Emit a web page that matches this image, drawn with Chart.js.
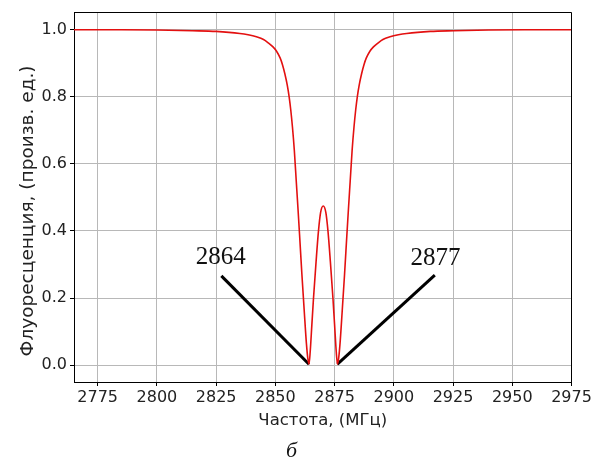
<!DOCTYPE html>
<html><head><meta charset="utf-8">
<script src="https://cdn.jsdelivr.net/npm/chart.js@4.4.1/dist/chart.umd.min.js"></script>
<style>html,body{margin:0;padding:0;background:#fff}#wrap{width:606px;height:465px;position:relative}</style>
</head><body><div id="wrap"><canvas id="c" width="606" height="465"></canvas></div>
<script>
// ---- data ----
const freq = [2765, 2785, 2800, 2815, 2825, 2835, 2838.5, 2842, 2845, 2847, 2849, 2850.5, 2852, 2853, 2854, 2855,
  2855.8, 2856.5, 2857.2, 2858.0, 2858.8, 2859.6, 2860.2, 2861.2, 2862.2, 2863.1, 2863.7, 2864.2,
  2864.7, 2865.4, 2866.1, 2867.2, 2868.2, 2869.1, 2870.2,
  2871.3, 2872.2, 2873.2, 2874.3, 2875.0, 2875.7, 2876.2,
  2876.7, 2877.3, 2878.2, 2879.2, 2880.2, 2880.8, 2881.6, 2882.4, 2883.2, 2883.9, 2884.6,
  2885.4, 2886.4, 2887.4, 2888.4, 2889.9, 2891.4, 2893.4, 2895.4, 2898.4, 2901.9, 2905.4, 2915.4, 2925.4, 2940, 2955, 2975];
const fluor = [0.999, 0.999, 0.998, 0.996, 0.994, 0.988, 0.984, 0.978, 0.970, 0.960, 0.948, 0.935, 0.915, 0.895, 0.868, 0.835,
  0.800, 0.760, 0.710, 0.640, 0.550, 0.460, 0.390, 0.270, 0.160, 0.065, 0.020, 0.003,
  0.040, 0.120, 0.200, 0.310, 0.400, 0.455, 0.474,
  0.455, 0.400, 0.310, 0.200, 0.120, 0.040, 0.003,
  0.020, 0.065, 0.160, 0.270, 0.390, 0.460, 0.550, 0.640, 0.710, 0.760, 0.800,
  0.835, 0.868, 0.895, 0.915, 0.935, 0.948, 0.960, 0.970, 0.978, 0.984, 0.988, 0.994, 0.996, 0.998, 0.999, 0.999];
const xTicks = [2775, 2800, 2825, 2850, 2875, 2900, 2925, 2950, 2975];
const yTicks = [0.0, 0.2, 0.4, 0.6, 0.8, 1.0];
const xMin = 2765, xMax = 2975, yMin = -0.05, yMax = 1.05;
const markLeftX = [2827.2, 2864.2];
const markLeftY = [0.266, 0.003];
const markRightX = [2876.2, 2917.3];
const markRightY = [0.003, 0.268];
const markLabels = ['2864', '2877'];
const markLabelX = [2826.9, 2917.6];
const markLabelY = [0.321, 0.318];
const xTitle = 'Частота, (МГц)';
const yTitle = 'Флуоресценция, (произв. ед.)';
const caption = 'б';

const toPts = (xs, ys) => xs.map((x, i) => ({x: x, y: ys[i]}));

const framePlugin = {
  id: 'frame',
  afterDraw(chart) {
    const {ctx, chartArea: a} = chart;
    ctx.save();
    ctx.strokeStyle = '#000';
    ctx.lineWidth = 1;
    const top = Math.round(a.top - 0.5) + 0.5;
    const right = Math.round(a.right - 0.5) + 0.5;
    ctx.beginPath();
    ctx.moveTo(a.left, top); ctx.lineTo(right, top); ctx.lineTo(right, a.bottom);
    ctx.stroke();
    ctx.restore();
  }
};

const textPlugin = {
  id: 'texts',
  afterDraw(chart) {
    const {ctx} = chart;
    const xs = chart.scales.x, ys = chart.scales.y;
    ctx.save();
    ctx.fillStyle = '#111';
    ctx.textAlign = 'center';
    ctx.textBaseline = 'middle';
    ctx.font = '25px "Liberation Serif"';
    markLabels.forEach((t, i) => {
      ctx.fillText(t, xs.getPixelForValue(markLabelX[i]), ys.getPixelForValue(markLabelY[i]));
    });
    ctx.font = 'italic 22px "Liberation Serif"';
    ctx.fillText(caption, 291.5, 451);
    ctx.font = '18.5px "DejaVu Sans"';
    ctx.fillStyle = '#222';
    ctx.translate(28, 211);
    ctx.rotate(-Math.PI / 2);
    ctx.fillText(yTitle, 0, 0);
    ctx.restore();
  }
};

new Chart(document.getElementById('c'), {
  type: 'line',
  data: {
    datasets: [
      {data: toPts(freq, fluor), borderColor: '#e31010', borderWidth: 1.6, pointRadius: 0,
       cubicInterpolationMode: 'monotone', fill: false},
      {data: toPts(markLeftX, markLeftY), borderColor: '#000', borderWidth: 3, pointRadius: 0, tension: 0, fill: false},
      {data: toPts(markRightX, markRightY), borderColor: '#000', borderWidth: 3, pointRadius: 0, tension: 0, fill: false}
    ]
  },
  options: {
    responsive: false,
    animation: false,
    events: [],
    layout: {padding: {top: 12, right: 34.5, left: 0, bottom: 0}},
    plugins: {legend: {display: false}, tooltip: {enabled: false}, title: {display: false}},
    scales: {
      x: {
        type: 'linear', min: xMin, max: xMax,
        afterBuildTicks: s => { s.ticks = xTicks.map(v => ({value: v})); },
        afterFit: s => { s.height = 83; },
        ticks: {autoSkip: false, maxRotation: 0, padding: 2, color: '#222',
                font: {family: 'DejaVu Sans', size: 16}, callback: v => String(v)},
        grid: {color: '#b8b8b8', lineWidth: 1, tickLength: 4, tickColor: '#000', drawTicks: true},
        border: {display: true, color: '#000', width: 1},
        title: {display: true, text: xTitle, color: '#222', font: {family: 'DejaVu Sans', size: 16.5},
                padding: {top: 0, bottom: 34}}
      },
      y: {
        type: 'linear', min: yMin, max: yMax,
        afterBuildTicks: s => { s.ticks = yTicks.map(v => ({value: v})); },
        afterFit: s => { s.width = 74; },
        ticks: {padding: 3, color: '#222', font: {family: 'DejaVu Sans', size: 16},
                callback: v => Number(v).toFixed(1)},
        grid: {color: '#b8b8b8', lineWidth: 1, tickLength: 4, tickColor: '#000', drawTicks: true},
        border: {display: true, color: '#000', width: 1}
      }
    }
  },
  plugins: [framePlugin, textPlugin]
});
</script>
</body></html>
